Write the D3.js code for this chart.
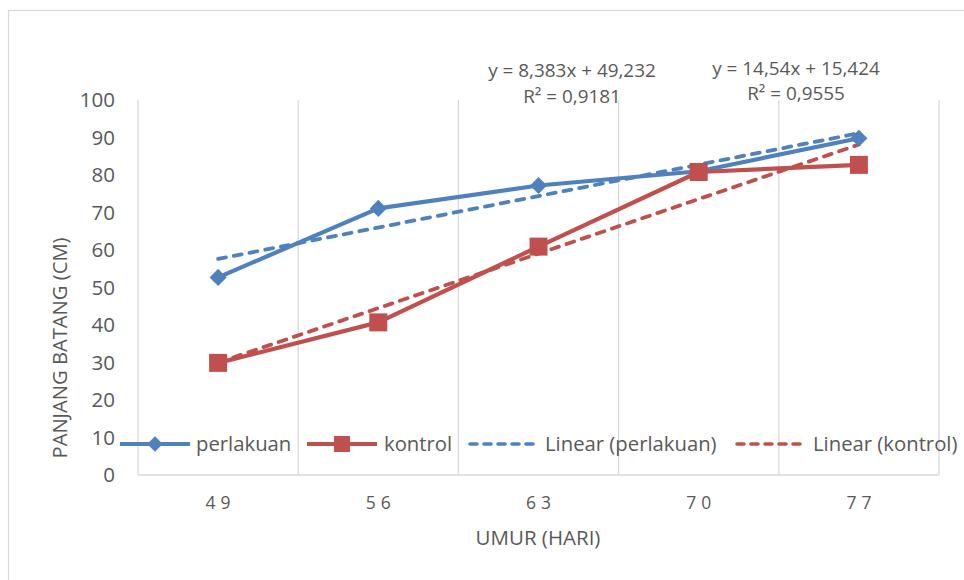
<!DOCTYPE html>
<html><head><meta charset="utf-8">
<script src="https://cdn.jsdelivr.net/npm/d3@7"></script>
<style>
html,body{margin:0;padding:0;background:#fff;}
text{font-family:"Open Sans",Lato,sans-serif;fill:#595959;}
</style></head>
<body><svg id="c" width="964" height="580"></svg>
<script>
const categories = ["49","56","63","70","77"];
const perlakuan = [52.7, 71.1, 77.2, 81.0, 89.8];
const kontrol = [29.9, 40.7, 60.9, 80.8, 82.7];
const yTicks = [0,10,20,30,40,50,60,70,80,90,100];
const seriesNames = ["perlakuan","kontrol"];
const trendNames = ["Linear (perlakuan)","Linear (kontrol)"];
const trendSlope = [8.383, 14.54];
const trendIntercept = [49.232, 15.424];
const trendEq = ["y = 8,383x + 49,232","y = 14,54x + 15,424"];
const trendR2 = ["R² = 0,9181","R² = 0,9555"];
const colors = ["#4F81BD","#C0504D"];
const xTitle = "UMUR (HARI)";
const yTitle = "PANJANG BATANG (CM)";

const svg = d3.select("#c");
const grid = "#d9d9d9";
svg.append("rect").attr("x",8.5).attr("y",10.5).attr("width",970).attr("height",590)
  .attr("fill","#fff").attr("stroke",grid).attr("stroke-width",1.2);

const x = d3.scaleBand().domain(categories).range([138,939]);
const y = d3.scaleLinear().domain([0,100]).range([475,100]);
const cx = c => x(c) + x.bandwidth()/2;

const bounds = categories.map(c=>x(c)).concat([x.range()[1]]);
svg.append("g").selectAll("line").data(bounds).join("line")
  .attr("x1",d=>d).attr("x2",d=>d).attr("y1",y(100)).attr("y2",y(0))
  .attr("stroke",grid).attr("stroke-width",1.3);
svg.append("line").attr("x1",x.range()[0]).attr("x2",x.range()[1]).attr("y1",y(0)).attr("y2",y(0))
  .attr("stroke",grid).attr("stroke-width",1.5);

svg.append("g").selectAll("text").data(yTicks).join("text")
  .attr("x",115).attr("y",d=>y(d)).attr("dy","0.36em").attr("text-anchor","end")
  .attr("font-size",20.5).text(d=>d);
svg.append("g").selectAll("text").data(categories).join("text")
  .attr("x",c=>cx(c)+2.5).attr("y",509).attr("text-anchor","middle")
  .attr("font-size",17.5).attr("letter-spacing","5px").text(d=>d);
svg.append("text").attr("x",538).attr("y",545).attr("text-anchor","middle").attr("font-size",20.5).text(xTitle);
svg.append("text").attr("transform","translate(67,348) rotate(-90)").attr("text-anchor","middle")
  .attr("font-size",20.2).text(yTitle);

const trendG = svg.append("g");
[0,1].forEach(i=>{
  trendG.append("line")
    .attr("x1",cx(categories[0])).attr("y1",y(trendSlope[i]*1+trendIntercept[i]))
    .attr("x2",cx(categories[categories.length-1])).attr("y2",y(trendSlope[i]*categories.length+trendIntercept[i]))
    .attr("stroke",colors[i]).attr("stroke-width",3.8).attr("stroke-dasharray","8,8")
    .attr("stroke-linecap","round");
});

const data = [perlakuan, kontrol];
const line = d3.line().x((d,i)=>cx(categories[i])).y(d=>y(d));
data.forEach((vals,i)=>{
  svg.append("path").datum(vals).attr("d",line).attr("fill","none")
    .attr("stroke",colors[i]).attr("stroke-width",4.2).attr("stroke-linejoin","round");
});
svg.append("g").selectAll("path").data(perlakuan).join("path")
  .attr("d",d3.symbol().type(d3.symbolSquare).size(145))
  .attr("transform",(d,i)=>`translate(${cx(categories[i])},${y(d)}) rotate(45)`)
  .attr("fill",colors[0]);
svg.append("g").selectAll("rect").data(kontrol).join("rect")
  .attr("x",(d,i)=>cx(categories[i])-9).attr("y",d=>y(d)-9)
  .attr("width",18).attr("height",18).attr("fill",colors[1]);

const eqPos = [[572,77,103],[796,75,100]];
[0,1].forEach(i=>{
  svg.append("text").attr("x",eqPos[i][0]).attr("y",eqPos[i][1]).attr("text-anchor","middle").attr("font-size",18.9).text(trendEq[i]);
  svg.append("text").attr("x",eqPos[i][0]).attr("y",eqPos[i][2]).attr("text-anchor","middle").attr("font-size",18.9).text(trendR2[i]);
});

const ly = 444;
const leg = svg.append("g");
const items = [
  {x0:120,x1:190,tx:196,c:colors[0],dash:false,m:"d",t:seriesNames[0]},
  {x0:307,x1:377,tx:384,c:colors[1],dash:false,m:"s",t:seriesNames[1]},
  {x0:470,x1:537,tx:545,c:colors[0],dash:true,t:trendNames[0]},
  {x0:737,x1:805,tx:813,c:colors[1],dash:true,t:trendNames[1]}
];
items.forEach(it=>{
  leg.append("line").attr("x1",it.x0).attr("x2",it.x1).attr("y1",ly).attr("y2",ly)
    .attr("stroke",it.c).attr("stroke-width",it.dash?3.6:4.2)
    .attr("stroke-dasharray",it.dash?"7,7":null).attr("stroke-linecap",it.dash?"round":"butt");
  const mx=(it.x0+it.x1)/2;
  if(it.m==="d") leg.append("path").attr("d",d3.symbol().type(d3.symbolSquare).size(120)).attr("transform",`translate(${mx},${ly}) rotate(45)`).attr("fill",it.c);
  if(it.m==="s") leg.append("rect").attr("x",mx-8).attr("y",ly-8).attr("width",16).attr("height",16).attr("fill",it.c);
  leg.append("text").attr("x",it.tx).attr("y",ly).attr("dy","0.36em").attr("font-size",20.3).text(it.t);
});
</script></body></html>
